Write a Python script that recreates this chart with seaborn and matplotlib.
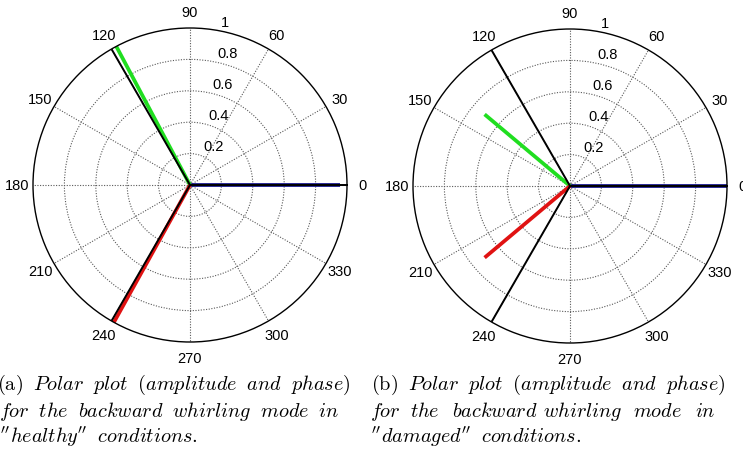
import numpy as np
import pandas as pd
import matplotlib
matplotlib.use("Agg")
import matplotlib.pyplot as plt
import seaborn as sns

# Reference phasors: unit amplitude, 120 degrees apart (black)
ref_phase_deg = [0, 120, 240]
ref_amp = [1.0, 1.0, 1.0]

# Measured phasors, healthy rotor (blue, green, red)
healthy_phase_deg = [0, 118, 241]
healthy_amp = [0.955, 1.0, 1.0]

# Measured phasors, damaged rotor (blue, green, red)
damaged_phase_deg = [0, 140, 220]
damaged_amp = [1.0, 0.71, 0.71]

phasor_names = ["u", "v", "w"]
phasor_colors = ["#12128a", "#20de20", "#e01212"]

angle_ticks = [0, 30, 60, 90, 120, 150, 180, 210, 240, 270, 300, 330]
radius_ticks = [0.2, 0.4, 0.6, 0.8, 1.0]
radius_labels = ["0.2", "0.4", "0.6", "0.8", "1"]

# Caption words
caption_title_words = ["Polar", "plot", "(amplitude", "and", "phase)"]
caption_mode_words = ["for", "the", "backward", "whirling", "mode", "in"]
caption_states = ["healthy", "damaged"]

SP = r"\ \;"  # inter-word space
Q = r"\mathrm{''}"  # double quote mark

W, H = 743, 452
sns.set_theme(style="white")
plt.rcParams["font.family"] = ["Liberation Sans", "DejaVu Sans"]
plt.rcParams["mathtext.fontset"] = "cm"

fig = plt.figure(figsize=(W / 100, H / 100), dpi=100)
fig.patch.set_facecolor("white")


def phasor_frame(phases, amps):
    rows = []
    for name, ph, a in zip(phasor_names, phases, amps):
        th = np.deg2rad(ph)
        rows.append({"phasor": name, "theta": th, "r": 0.0})
        rows.append({"phasor": name, "theta": th, "r": a})
    return pd.DataFrame(rows)


def polar_panel(cx, cy, radius, phases, amps):
    ax = fig.add_axes([(cx - radius) / W, 1 - (cy + radius) / H,
                       2 * radius / W, 2 * radius / H], projection="polar")
    ax.set_facecolor("white")

    meas = phasor_frame(phases, amps)
    sns.lineplot(data=meas, x="theta", y="r", hue="phasor",
                 palette=phasor_colors, units="phasor", estimator=None,
                 sort=False, linewidth=2.7, legend=False, ax=ax,
                 solid_capstyle="butt")
    ref = phasor_frame(ref_phase_deg, ref_amp)
    sns.lineplot(data=ref, x="theta", y="r", units="phasor", estimator=None,
                 sort=False, color="black", linewidth=1.4, legend=False,
                 ax=ax, solid_capstyle="butt")

    ax.set_xlabel("")
    ax.set_ylabel("")
    ax.set_ylim(0, 1)
    ax.set_xticks(np.deg2rad(angle_ticks))
    ax.set_xticklabels([])
    ax.set_yticks(radius_ticks[:-1])
    ax.set_yticklabels([])
    ax.tick_params(length=0)
    ax.grid(True, color="0.35", linestyle=(0, (1, 1.4)), linewidth=0.8)
    ax.spines["polar"].set_color("black")
    ax.spines["polar"].set_linewidth(1.0)

    for a in angle_ticks:
        ax.text(np.deg2rad(a), 1.1, str(a), ha="center", va="center",
                fontsize=10.5, color="black")
    for r, lbl in zip(radius_ticks, radius_labels):
        ax.annotate(lbl, xy=(np.deg2rad(82), r), xytext=(6.8, 2.9),
                    textcoords="offset points", ha="left", va="baseline",
                    fontsize=10.5, color="black")
    return ax


polar_panel(190, 186, 157, healthy_phase_deg, healthy_amp)
polar_panel(570, 187, 157, damaged_phase_deg, damaged_amp)

cap_size = 14.6
baselines = [390, 417, 443]


def ftext(x, y, s):
    fig.text(x / W, 1 - y / H, s, ha="left", va="baseline",
             fontsize=cap_size, color="black")


def it_words(words):
    return SP.join(r"\mathit{" + w + "}" for w in words)


def title_line(tag):
    return "$" + r"\mathrm{(" + tag + ")}" + SP + it_words(caption_title_words) + "$"


def state_line(state):
    return "$" + Q + r"\mathit{" + state + "}" + Q + SP + r"\mathit{conditions.}$"


# (a) caption
ftext(-3, baselines[0], title_line("a"))
ftext(-1, baselines[1], "$" + it_words(caption_mode_words) + "$")
ftext(0, baselines[2], state_line(caption_states[0]))

# (b) caption; its second line is justified across the column
ftext(371, baselines[0], title_line("b"))
for wx, w in zip([370, 410, 452, 543, 633, 695], caption_mode_words):
    ftext(wx, baselines[1], r"$\mathit{" + w + "}$")
ftext(371, baselines[2], state_line(caption_states[1]))

fig.savefig("out.png", dpi=100, facecolor="white")
